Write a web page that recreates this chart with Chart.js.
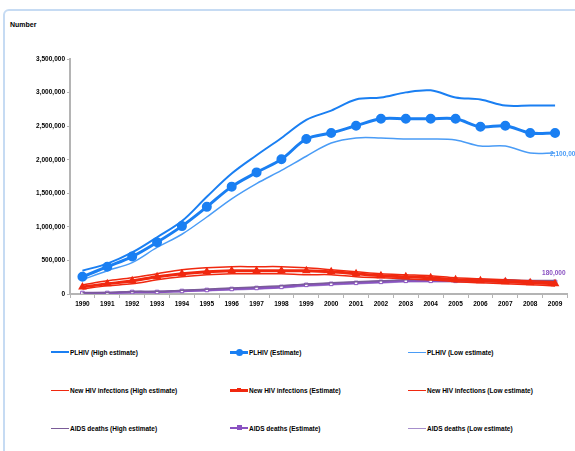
<!DOCTYPE html>
<html>
<head>
<meta charset="utf-8">
<script src="https://cdn.jsdelivr.net/npm/chart.js@4"></script>
<style>
  body { margin: 0; background: #fff; font-family: "Liberation Sans", Arial, sans-serif; }
  #wrap { position: relative; width: 575px; height: 451px; overflow: hidden; }
  #frame { position: absolute; left: 3px; top: 9px; width: 640px; height: 500px;
           border: 2px solid #c6dbf3; border-radius: 6px; box-sizing: border-box; }
  #title { position: absolute; left: 10px; top: 21px; font-size: 7px; font-weight: bold; color: #000; }
  canvas { position: absolute; left: 0; top: 0; }
  .lg { position: absolute; font-size: 6.5px; font-weight: bold; color: #000; white-space: nowrap;
        display: flex; align-items: center; height: 10px; }
  .lg i { display: inline-block; width: 18px; height: 0; margin-right: 1px; position: relative; }
</style>
</head>
<body>
<div id="wrap">
  <div id="frame"></div>
  <div id="title">Number</div>
  <canvas id="chart" width="575" height="320"></canvas>
  <div id="legend"></div>
</div>
<script>
// Categories
const years = ['1990','1991','1992','1993','1994','1995','1996','1997','1998','1999',
               '2000','2001','2002','2003','2004','2005','2006','2007','2008','2009'];

// People living with HIV
const plhivHigh = [347000, 453000, 619000, 845000, 1086000, 1448000, 1795000, 2067000, 2324000, 2595000,
                   2731000, 2897000, 2927000, 3003000, 3033000, 2927000, 2897000, 2806000, 2806000, 2806000];
const plhivEst  = [256000, 407000, 558000, 770000, 1011000, 1298000, 1599000, 1811000, 2007000, 2308000,
                   2399000, 2505000, 2610000, 2610000, 2610000, 2610000, 2490000, 2505000, 2399000, 2399000];
const plhivLow  = [211000, 347000, 468000, 694000, 890000, 1147000, 1418000, 1645000, 1841000, 2052000,
                   2248000, 2324000, 2324000, 2309000, 2309000, 2293000, 2203000, 2203000, 2100000, 2100000];

// New HIV infections
const newHigh = [136000, 196000, 241000, 302000, 362000, 392000, 407000, 407000, 407000, 392000,
                 362000, 332000, 302000, 287000, 272000, 241000, 226000, 211000, 196000, 181000];
const newEst  = [106000, 151000, 196000, 257000, 302000, 332000, 347000, 347000, 347000, 347000,
                 332000, 302000, 272000, 257000, 241000, 211000, 196000, 181000, 166000, 151000];
const newLow  = [75000, 121000, 151000, 211000, 257000, 287000, 302000, 302000, 302000, 287000,
                 287000, 257000, 241000, 226000, 211000, 181000, 166000, 151000, 136000, 121000];

// AIDS deaths
const deathHigh = [20000, 22000, 38000, 40000, 55000, 72000, 90000, 106000, 122000, 150000,
                   166000, 181000, 196000, 211000, 211000, 211000, 211000, 211000, 200000, 200000];
const deathEst  = [15000, 15000, 30000, 30000, 45000, 60000, 75000, 90000, 106000, 136000,
                   151000, 166000, 181000, 196000, 196000, 196000, 196000, 196000, 180000, 180000];
const deathLow  = [10000, 10000, 22000, 24000, 36000, 50000, 62000, 76000, 92000, 120000,
                   136000, 151000, 166000, 181000, 181000, 181000, 181000, 181000, 165000, 165000];

// Y axis
const yMax = 3500000;
const yStep = 500000;

const BLUE = '#1a7ff2';
const BLUE_LIGHT = '#4a9cf6';
const RED = '#f0280f';
const PURPLE = '#8a52c2';
const PURPLE_DARK = '#7a5c98';
const PURPLE_LIGHT = '#a68fcc';

function line(label, data, color, width, point) {
    return Object.assign({
        label: label,
        data: data,
        borderColor: color,
        backgroundColor: color,
        borderWidth: width,
        tension: 0.35,
        pointRadius: 0,
        fill: false
    }, point || {});
}

const datasets = [
    line('PLHIV (High estimate)', plhivHigh, BLUE, 2),
    line('PLHIV (Estimate)', plhivEst, BLUE, 3, { pointRadius: 3.5, pointStyle: 'circle' }),
    line('PLHIV (Low estimate)', plhivLow, BLUE_LIGHT, 1.5),
    line('New HIV infections (High estimate)', newHigh, RED, 1.5),
    line('New HIV infections (Estimate)', newEst, RED, 3, { pointRadius: 2, pointStyle: 'triangle' }),
    line('New HIV infections (Low estimate)', newLow, RED, 1.5),
    line('AIDS deaths (High estimate)', deathHigh, PURPLE_DARK, 1.5),
    line('AIDS deaths (Estimate)', deathEst, PURPLE, 2.5,
         { pointRadius: 2.5, pointStyle: 'rect', pointBackgroundColor: '#fff', pointBorderWidth: 1 }),
    line('AIDS deaths (Low estimate)', deathLow, PURPLE_LIGHT, 1.5)
];

// Value labels at the end of two series
const endLabels = {
    id: 'endLabels',
    afterDatasetsDraw(chart) {
        const ctx = chart.ctx;
        const items = [
            { ds: 2, color: BLUE_LIGHT, dx: -5, dy: 1 },
            { ds: 7, color: PURPLE, dx: -13, dy: -9 }
        ];
        ctx.save();
        ctx.font = 'bold 6.5px "Liberation Sans", Arial, sans-serif';
        ctx.textBaseline = 'middle';
        ctx.textAlign = 'left';
        items.forEach(it => {
            const meta = chart.getDatasetMeta(it.ds);
            const pt = meta.data[meta.data.length - 1];
            const val = chart.data.datasets[it.ds].data[meta.data.length - 1];
            ctx.fillStyle = it.color;
            ctx.fillText(val.toLocaleString('en-US'), pt.x + it.dx, pt.y + it.dy);
        });
        ctx.restore();
    }
};

const tickFont = { family: '"Liberation Sans", Arial, sans-serif', size: 6.5, weight: 'bold' };

new Chart(document.getElementById('chart').getContext('2d'), {
    type: 'line',
    data: { labels: years, datasets: datasets },
    plugins: [endLabels],
    options: {
        responsive: false,
        animation: false,
        layout: { padding: { top: 59, right: 7.5, bottom: 6, left: 0 } },
        plugins: { legend: { display: false }, tooltip: { enabled: false } },
        scales: {
            x: {
                offset: true,
                border: { color: '#b4b4b4', width: 2 },
                grid: { display: true, drawOnChartArea: false, offset: true, tickLength: 4, color: '#b4b4b4' },
                ticks: { font: tickFont, color: '#000', maxRotation: 0, autoSkip: false, padding: 2 },
                afterFit: s => { s.height = 20; }
            },
            y: {
                min: 0,
                max: yMax,
                border: { color: '#b4b4b4', width: 2 },
                grid: { display: true, drawOnChartArea: false, tickLength: 3, color: '#b4b4b4' },
                ticks: {
                    stepSize: yStep,
                    font: tickFont,
                    color: '#000',
                    padding: 2,
                    callback: v => v.toLocaleString('en-US')
                },
                afterFit: s => { s.width = 70; }
            }
        }
    }
});

// Legend in three columns, like the original sheet
const legendCols = [51, 230, 408];
const legendRows = [352, 390, 428];
const legendBox = document.getElementById('legend');
datasets.forEach((ds, i) => {
    const el = document.createElement('div');
    el.className = 'lg';
    el.style.left = legendCols[i % 3] + 'px';
    el.style.top = (legendRows[Math.floor(i / 3)] - 5) + 'px';
    const mark = document.createElement('i');
    mark.style.borderTop = ds.borderWidth + 'px solid ' + ds.borderColor;
    if (ds.pointRadius > 0) {
        const dot = document.createElement('span');
        const r = ds.pointRadius;
        dot.style.cssText = 'position:absolute;left:' + (9 - r) + 'px;top:' + (-r - ds.borderWidth / 2) + 'px;width:' +
            (2 * r) + 'px;height:' + (2 * r) + 'px;background:' + ds.borderColor +
            (ds.pointStyle === 'circle' ? ';border-radius:50%' : '');
        mark.appendChild(dot);
    }
    el.appendChild(mark);
    el.appendChild(document.createTextNode(ds.label));
    legendBox.appendChild(el);
});
</script>
</body>
</html>
